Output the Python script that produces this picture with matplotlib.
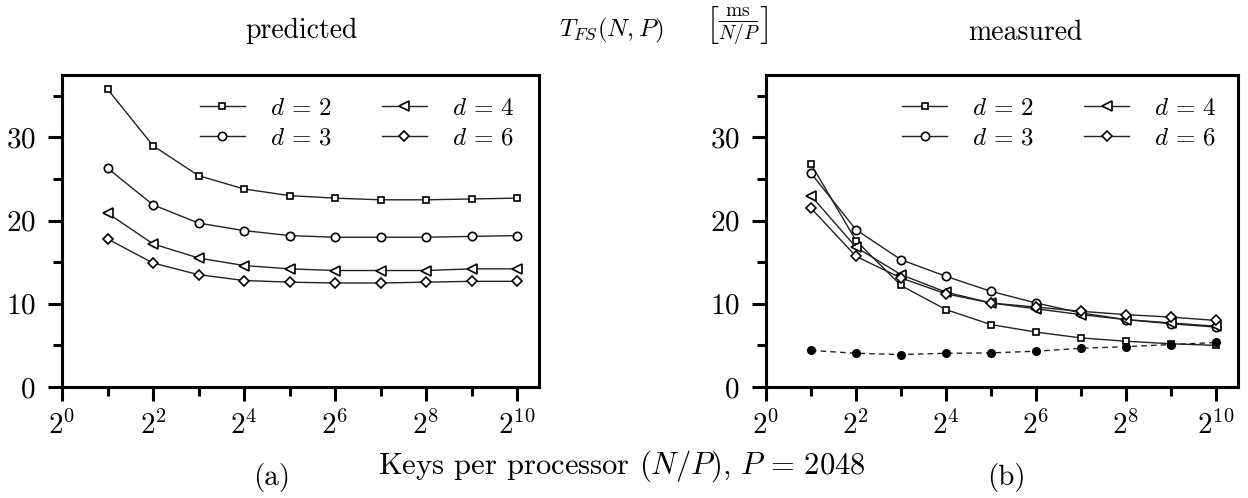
import numpy as np
import matplotlib
matplotlib.use("Agg")
import matplotlib.pyplot as plt
from matplotlib.ticker import FixedLocator, FuncFormatter

plt.rcParams['font.family'] = ['cmr10', 'DejaVu Serif']
plt.rcParams['mathtext.fontset'] = 'cm'
plt.rcParams['axes.formatter.use_mathtext'] = True

# keys per processor (N/P = 2^k)
keys = [2, 4, 8, 16, 32, 64, 128, 256, 512, 1024]

# (a) predicted, ms per N/P
pred_d2 = [35.8, 29.0, 25.4, 23.8, 23.0, 22.7, 22.5, 22.5, 22.6, 22.7]
pred_d3 = [26.3, 21.9, 19.7, 18.8, 18.2, 18.0, 18.0, 18.0, 18.1, 18.2]
pred_d4 = [20.9, 17.2, 15.5, 14.6, 14.2, 14.0, 14.0, 14.0, 14.2, 14.2]
pred_d6 = [17.8, 14.9, 13.5, 12.8, 12.6, 12.5, 12.5, 12.6, 12.7, 12.7]

# (b) measured
meas_d2 = [26.8, 17.6, 12.2, 9.3, 7.5, 6.6, 5.9, 5.5, 5.2, 5.0]
meas_d3 = [25.7, 18.9, 15.3, 13.3, 11.5, 10.1, 8.9, 8.1, 7.6, 7.2]
meas_d4 = [23.0, 16.8, 13.5, 11.4, 10.1, 9.4, 8.7, 8.1, 7.7, 7.3]
meas_d6 = [21.5, 15.7, 13.1, 11.2, 10.1, 9.6, 9.1, 8.7, 8.4, 8.0]
meas_base = [4.4, 4.05, 3.9, 4.05, 4.1, 4.3, 4.65, 4.85, 5.1, 5.35]

labels = ['$d\\,=\\,2$', '$d\\,=\\,3$', '$d\\,=\\,4$', '$d\\,=\\,6$']
markers = ['s', 'o', '<', 'D']
msizes = [5, 6, 6.5, 5]

fig = plt.figure(figsize=(12.48, 4.98), dpi=100)
ax1 = fig.add_axes([62/1248, 111/498, 477/1248, 312/498])
ax2 = fig.add_axes([766/1248, 111/498, 472/1248, 312/498])


def style_axis(ax, xmax):
    ax.set_xscale('log', base=2)
    ax.set_xlim(1, xmax)
    ax.set_ylim(0, 37.5)
    ax.xaxis.set_major_locator(FixedLocator([2**k for k in range(0, 11, 2)]))
    ax.xaxis.set_minor_locator(FixedLocator([2**k for k in range(1, 11, 2)]))
    ax.xaxis.set_major_formatter(FuncFormatter(lambda v, p: '$2^{%d}$' % round(np.log2(v))))
    ax.xaxis.set_minor_formatter(FuncFormatter(lambda v, p: ''))
    ax.yaxis.set_major_locator(FixedLocator([0, 10, 20, 30]))
    ax.yaxis.set_minor_locator(FixedLocator([5, 15, 25, 35]))
    ax.tick_params(which='major', direction='out', length=10, width=2.2, labelsize=21, pad=7)
    ax.tick_params(which='minor', direction='out', length=6.5, width=2.2)
    ax.tick_params(axis='y', which='major', pad=9)
    ax.tick_params(top=False, right=False, which='both')
    for s in ax.spines.values():
        s.set_linewidth(2.2)


def draw(ax, series):
    handles = []
    for vals, lab, m, ms in zip(series, labels, markers, msizes):
        h, = ax.plot(keys, vals, color='#222222', lw=1.0, marker=m, ms=ms,
                     mfc='white', mec='black', mew=1.2, label=lab)
        handles.append(h)
    ax.legend(handles=handles, ncol=2, frameon=False, loc='upper left',
              bbox_to_anchor=(0.252, 0.985), fontsize=18, handlelength=1.8,
              handletextpad=1.0, columnspacing=2.0, labelspacing=0.3, borderpad=0.2)


style_axis(ax1, 2**10.48)
style_axis(ax2, 2**10.49)
draw(ax1, [pred_d2, pred_d3, pred_d4, pred_d6])
draw(ax2, [meas_d2, meas_d3, meas_d4, meas_d6])
ax2.plot(keys, meas_base, color='#222222', lw=1.0, ls=(0, (4, 3)), marker='o',
         ms=5.5, mfc='black', mec='black')

fig.text(301/1248, 1 - 31/498, 'predicted', fontsize=20, ha='center', va='center')
fig.text(1025/1248, 1 - 33/498, 'measured', fontsize=20, ha='center', va='center')
fig.text(611/1248, 1 - 30/498, '$T_{FS}(N,P)$', fontsize=18, ha='center', va='center')
fig.text(737/1248, 1 - 26/498, r'$\left[\frac{\mathrm{ms}}{N/P}\right]$', fontsize=20,
         ha='center', va='center')
fig.text(622/1248, 1 - 466/498, 'Keys per processor $(N/P)$, $P\\,=\\,2048$',
         fontsize=22, ha='center', va='center')
fig.text(272/1248, 1 - 478/498, '(a)', fontsize=21, ha='center', va='center')
fig.text(1006/1248, 1 - 478/498, '(b)', fontsize=21, ha='center', va='center')

fig.savefig('out.png', dpi=100)
